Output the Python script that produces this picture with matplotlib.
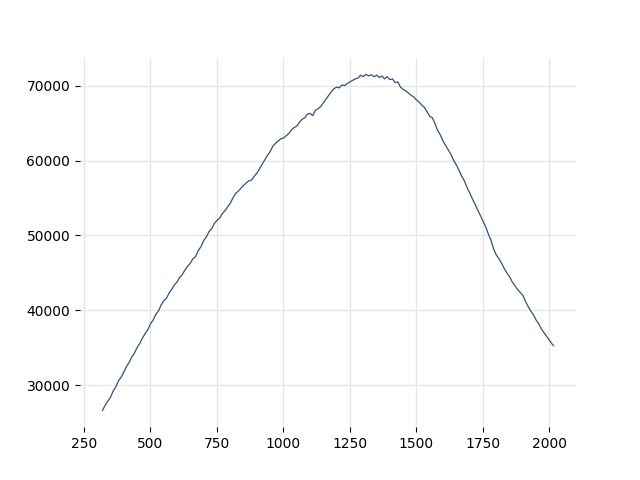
import numpy as np
import matplotlib
matplotlib.use("Agg")
import matplotlib.pyplot as plt

# x positions (every 10 units) and values
x_start = [320, 330, 340, 350, 360, 370, 380, 390]
x_main = list(range(400, 2011, 10))
x_vals = x_start + x_main + [2015]

y_vals = [
    26650, 27350, 27900, 28400, 29250, 29800, 30600, 31100,
    31750, 32500, 33050, 33800, 34300, 35050, 35600, 36300, 36900, 37400,
    38200, 38700, 39450, 39900, 40700, 41300, 41600, 42300, 42800, 43400,
    43800, 44400, 44800, 45400, 45900, 46300, 46900, 47200, 48000, 48500,
    49300, 49800, 50500, 50900, 51600, 52000, 52300, 52900, 53300, 53800,
    54300, 55000, 55600, 55900, 56300, 56700, 57000, 57300, 57400, 57900,
    58300, 58900, 59500, 60100, 60700, 61200, 61900, 62300, 62600, 62900,
    63000, 63300, 63600, 64100, 64400, 64600, 65100, 65500, 65700, 66200,
    66300, 66000, 66700, 66900, 67200, 67700, 68200, 68700, 69200, 69600,
    69800, 69700, 70100, 70000, 70300, 70500, 70700, 70900, 71000, 71400,
    71200, 71500, 71300, 71450, 71200, 71400, 71100, 71300, 70900, 71200,
    70800, 70900, 70400, 70500, 69800, 69500, 69300, 69000, 68700, 68500,
    68100, 67800, 67400, 67100, 66500, 65900, 65700, 64900, 64000, 63400,
    62600, 62000, 61400, 60800, 60000, 59400, 58700, 57900, 57300, 56400,
    55700, 54900, 54200, 53400, 52700, 51900, 51200, 50200, 49400, 48200,
    47400, 46900, 46300, 45600, 45000, 44500, 43800, 43300, 42800, 42400,
    42000, 41200, 40500, 39900, 39400, 38700, 38200, 37500, 37000, 36500,
    36000, 35500, 35300,
]

fig, ax = plt.subplots(figsize=(6.4, 4.8), dpi=100)

ax.plot(x_vals, y_vals, color="#34507a", linewidth=0.9)

ax.grid(True, color="#e6e6e6", linewidth=1)
ax.set_axisbelow(True)
for s in ax.spines.values():
    s.set_visible(False)

plt.savefig("out.png", dpi=100)
